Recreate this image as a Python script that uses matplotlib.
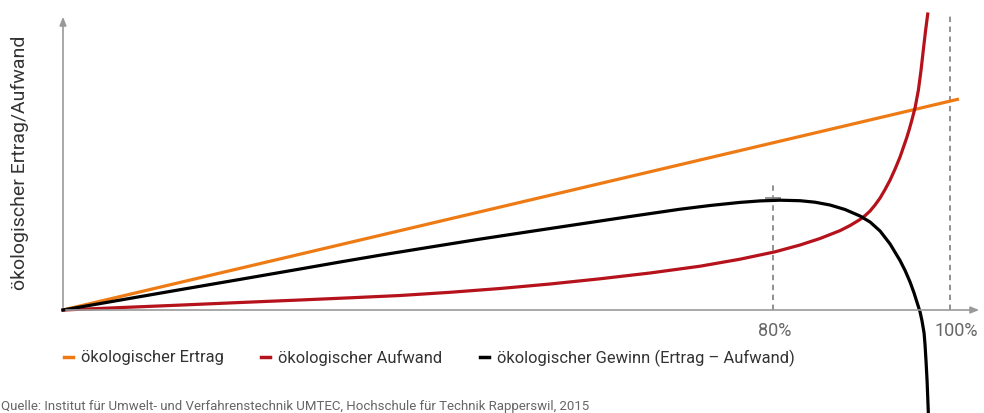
import matplotlib.pyplot as plt
from matplotlib.lines import Line2D

plt.rcParams['font.family'] = ['Roboto', 'DejaVu Sans']

# x: Auslastung in %, y: willkürliche Einheiten
ertrag_x = [0, 101]
ertrag_y = [0, 100]

aufwand_x = [0, 6.43, 13.19, 19.95, 26.72, 32.36, 37.99, 43.63, 49.27, 54.90, 60.54,
             66.18, 71.82, 76.32, 80.27, 83.09, 85.34, 87.60, 88.73, 89.85, 90.42,
             90.98, 91.54, 92.11, 92.67, 93.24, 93.80, 94.36, 94.73, 95.12, 95.38,
             95.68, 96.06, 96.43, 96.73, 97.01, 97.24, 97.48]
aufwand_y = [0, 1.14, 2.32, 3.55, 4.74, 5.78, 6.87, 8.39, 10.19, 12.32, 14.79,
             17.54, 20.76, 24.08, 27.58, 30.81, 33.89, 37.63, 40.05, 42.89, 44.74,
             46.92, 49.76, 53.08, 57.11, 61.61, 66.82, 72.51, 77.01, 81.75, 85.31,
             89.81, 95.97, 104.27, 113.74, 124.17, 132.46, 140.28]

gewinn_x = [0, 6.43, 13.19, 19.95, 26.72, 31.23, 35.74, 41.38, 47.01, 52.65, 58.29,
            63.92, 69.56, 72.94, 76.32, 78.58, 80.83, 83.09, 84.78, 86.47, 88.16,
            89.85, 90.98, 92.11, 93.24, 94.36, 94.93, 95.49, 95.94, 96.28, 96.62,
            96.84, 97.07, 97.18, 97.29, 97.41, 97.49, 97.55]
gewinn_y = [0, 4.69, 9.62, 14.50, 19.43, 22.75, 25.97, 29.81, 33.60, 37.20, 40.76,
            44.31, 47.77, 49.53, 51.00, 51.71, 52.04, 51.80, 51.09, 49.76, 47.63,
            44.55, 41.71, 37.44, 31.28, 23.46, 18.72, 13.27, 8.06, 3.55, -0.95,
            -5.21, -10.90, -16.59, -24.17, -33.65, -42.18, -48.82]

tick_pos = [80, 100]
tick_labels = ['80%', '100%']
legend_labels = ['ökologischer Ertrag', 'ökologischer Aufwand',
                 'ökologischer Gewinn (Ertrag – Aufwand)']

c_orange = '#EE7A14'
c_red = '#B5121B'
c_grey = '#999999'

W, H = 984, 414
fig = plt.figure(figsize=(W / 100, H / 100), dpi=100)
# Ursprung bei Pixel (63, 311)
ax = fig.add_axes([63 / W, 1 - 311 / H, 919 / W, 296 / H])
ax.set_xlim(0, 103.6)
ax.set_ylim(0, 140.3)
ax.axis('off')

# Hilfslinien
ax.plot([tick_pos[0]] * 2, [0, 59.7], ls=(0, (3, 2.5)), color='#888888', lw=1.3, clip_on=False)
ax.plot([tick_pos[1]] * 2, [0, 141], ls=(0, (3, 2.5)), color='#888888', lw=1.3, clip_on=False)
ax.plot([tick_pos[0]], [max(gewinn_y) + 1.0], marker='_', ms=11, mew=1.3, color='#888888',
        clip_on=False)

# Achsen mit Pfeilen
ax.annotate('', xy=(103.6, 0), xytext=(0, 0),
            arrowprops=dict(arrowstyle='-|>,head_length=0.5,head_width=0.2', color=c_grey, lw=1.2),
            annotation_clip=False)
ax.annotate('', xy=(0, 140.3), xytext=(0, 0),
            arrowprops=dict(arrowstyle='-|>,head_length=0.5,head_width=0.2', color=c_grey, lw=1.2),
            annotation_clip=False)

ax.plot(ertrag_x, ertrag_y, color=c_orange, lw=2.3, solid_capstyle='butt', clip_on=False)
ax.plot(aufwand_x, aufwand_y, color=c_red, lw=2.3, solid_joinstyle='round', clip_on=False)
ax.plot(gewinn_x, gewinn_y, color='black', lw=2.3, solid_joinstyle='round', clip_on=False)

for p, lab in zip(tick_pos, tick_labels):
    ax.text(p + (0.7 if lab == '100%' else 0.2), -9.5, lab, ha='center', va='center',
            fontsize=13, color='#666666')

fig.text(20 / W, 1 - 163 / H, 'ökologischer Ertrag/Aufwand', rotation=90, ha='center',
         va='center', fontsize=14, color='#333333')

# Legende
leg_colors = [c_orange, c_red, 'black']
leg_x = [64, 261, 480]
for x0, col, lab in zip(leg_x, leg_colors, legend_labels):
    fig.add_artist(Line2D([x0 / W, (x0 + 9) / W], [1 - 358 / H] * 2, color=col, lw=2.5,
                          transform=fig.transFigure))
    fig.text((x0 + 17) / W, 1 - 358 / H, lab, ha='left', va='center', fontsize=11.9,
             color='#333333')

fig.text(1 / W, 1 - 407 / H,
         'Quelle: Institut für Umwelt- und Verfahrenstechnik UMTEC, Hochschule für Technik Rapperswil, 2015',
         ha='left', va='center', fontsize=9.5, color='#666666')

fig.savefig('out.png', dpi=100)
